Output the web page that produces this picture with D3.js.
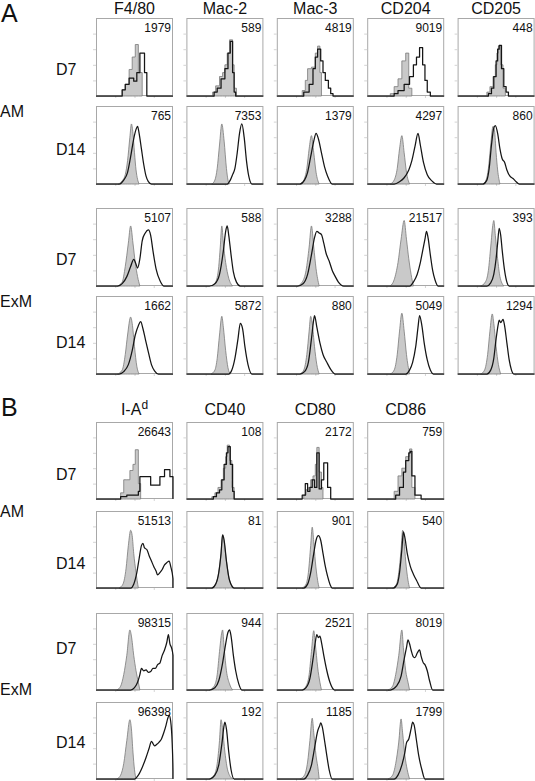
<!DOCTYPE html>
<html><head><meta charset="utf-8">
<script src="https://cdn.jsdelivr.net/npm/d3@7"></script>
<style>body{margin:0;background:#fff}svg{display:block}text{font-family:"Liberation Sans",Arial,sans-serif;fill:#111}</style>
</head><body>
<script>
// ---------------- DATA ----------------
const markersA = ["F4/80", "Mac-2", "Mac-3", "CD204", "CD205"];
const markersB = ["I-A", "CD40", "CD80", "CD86"];
const groups = ["AM", "ExM"];
const days = ["D7", "D14"];
// MFI numbers, rows: AM D7, AM D14, ExM D7, ExM D14
const mfiA = [[1979, 589, 4819, 9019, 448], [765, 7353, 1379, 4297, 860], [5107, 588, 3288, 21517, 393], [1662, 5872, 880, 5049, 1294]];
const mfiB = [[26643, 108, 2172, 759], [51513, 81, 901, 540], [98315, 944, 2521, 8019], [96398, 192, 1185, 1799]];

// histograms: [channel % of axis, count % of panel height]; iso = grey control, pos = stained
// Panel A, AM D7 (step histograms)
const F480_AM7_iso = [[34,8],[38,15],[43,34],[47,50],[51,66],[55,30],[60,0]];
const F480_AM7_pos = [[34,8],[38,15],[43,23],[49,19],[53,30],[57,55],[63,30],[66,0]];
const Mac2_AM7_iso = [[34,5],[38,13],[43,25],[47,30],[50,40],[53,55],[56,72],[60,40],[62,10],[65,0]];
const Mac2_AM7_pos = [[36,5],[40,10],[45,22],[50,35],[54,55],[57,70],[60,30],[62,5],[64,0]];
const Mac3_AM7_iso = [[33,7],[37,20],[40,35],[45,37],[50,55],[53,64],[56,30],[58,0]];
const Mac3_AM7_pos = [[35,5],[42,15],[47,35],[50,50],[53,60],[57,45],[60,30],[63,20],[67,10],[70,3],[73,0]];
const CD204_AM7_iso = [[30,3],[35,12],[40,22],[45,45],[50,55],[54,10],[58,0]];
const CD204_AM7_pos = [[35,3],[40,7],[48,15],[55,25],[60,40],[64,50],[68,62],[72,40],[75,20],[78,5],[82,0]];
const CD205_AM7_iso = [[38,5],[42,12],[46,25],[49,40],[51,55],[53,64],[56,40],[59,10],[62,0]];
const CD205_AM7_pos = [[40,3],[44,10],[47,25],[50,45],[52,60],[54,65],[57,35],[60,12],[63,5],[66,0]];
// Panel A, AM D14
const F480_AM14_iso = [[29,0],[34,4],[38,12],[41,30],[44,60],[46,77],[48,65],[50,40],[52,18],[54,6],[56,0]];
const F480_AM14_pos = [[30,0],[36,5],[41,15],[45,35],[49,58],[52,70],[54,74],[56,65],[59,45],[62,25],[65,10],[68,3],[72,0]];
const Mac2_AM14_iso = [[33,0],[37,5],[40,20],[43,50],[46,77],[49,55],[52,20],[54,5],[56,0]];
const Mac2_AM14_pos = [[53,0],[57,5],[60,12],[63,20],[66,40],[69,65],[72,77],[75,60],[78,30],[81,10],[85,0]];
const Mac3_AM14_iso = [[30,0],[35,5],[39,20],[42,45],[45,62],[48,40],[51,15],[55,0]];
const Mac3_AM14_pos = [[30,0],[36,5],[40,15],[44,35],[48,55],[51,65],[54,58],[58,40],[62,22],[66,10],[72,0]];
const CD204_AM14_iso = [[30,0],[35,5],[39,20],[42,45],[45,62],[48,40],[51,15],[55,0]];
const CD204_AM14_pos = [[35,0],[42,3],[48,8],[54,18],[58,30],[62,48],[66,65],[69,50],[73,28],[78,12],[84,4],[90,0]];
const CD205_AM14_iso = [[33,0],[37,5],[40,20],[43,50],[46,74],[48,68],[50,40],[52,18],[55,0]];
const CD205_AM14_pos = [[33,0],[38,5],[41,20],[44,50],[47,72],[49,75],[52,65],[55,45],[58,32],[61,28],[64,18],[68,10],[72,7],[76,3],[80,0]];
// Panel A, ExM D7
const F480_EX7_iso = [[28,0],[34,5],[38,25],[42,55],[45,77],[48,55],[51,30],[54,12],[57,0]];
const F480_EX7_pos = [[28,0],[34,3],[40,12],[45,25],[49,34],[52,28],[54,23],[57,35],[60,58],[64,68],[68,72],[71,65],[74,45],[78,22],[83,7],[88,0]];
const Mac2_EX7_iso = [[33,0],[38,5],[42,25],[44,50],[46,77],[48,55],[51,30],[55,10],[60,0]];
const Mac2_EX7_pos = [[30,0],[37,3],[43,15],[48,45],[51,70],[53,77],[55,65],[58,40],[61,18],[65,5],[70,0]];
const Mac3_EX7_iso = [[27,0],[33,5],[38,20],[42,50],[45,77],[48,50],[51,22],[55,0]];
const Mac3_EX7_pos = [[27,0],[34,3],[40,15],[45,40],[49,62],[52,70],[55,68],[58,66],[61,55],[64,42],[68,32],[72,20],[76,12],[80,5],[87,0]];
const CD204_EX7_iso = [[30,0],[35,8],[40,30],[44,60],[48,84],[51,60],[54,35],[57,15],[60,0]];
const CD204_EX7_pos = [[55,0],[60,5],[65,15],[69,30],[72,45],[75,60],[77,70],[79,62],[82,40],[85,20],[88,8],[92,0]];
const CD205_EX7_iso = [[30,0],[36,5],[40,20],[43,50],[46,80],[47,84],[49,65],[52,35],[55,12],[60,0]];
const CD205_EX7_pos = [[38,0],[43,4],[47,15],[50,35],[52,55],[54,74],[56,65],[58,45],[61,20],[64,5],[67,0]];
// Panel A, ExM D14
const F480_EX14_iso = [[28,0],[34,5],[38,25],[41,50],[45,73],[47,65],[50,35],[53,10],[56,0]];
const F480_EX14_pos = [[30,0],[36,3],[42,12],[47,30],[51,50],[55,62],[58,67],[61,58],[64,45],[68,28],[72,12],[76,4],[81,0]];
const Mac2_EX14_iso = [[32,0],[37,5],[40,20],[43,50],[46,74],[48,60],[51,30],[54,8],[57,0]];
const Mac2_EX14_pos = [[55,0],[59,5],[63,20],[67,45],[70,65],[73,58],[76,35],[80,12],[85,0]];
const Mac3_EX14_iso = [[30,0],[35,5],[39,25],[42,55],[44,74],[46,65],[49,35],[52,12],[55,0]];
const Mac3_EX14_pos = [[30,0],[36,3],[41,15],[45,45],[48,70],[49,75],[52,60],[56,40],[60,25],[65,15],[70,6],[76,0]];
const CD204_EX14_iso = [[30,0],[35,5],[39,25],[42,55],[45,78],[48,55],[51,25],[55,0]];
const CD204_EX14_pos = [[50,0],[55,5],[59,15],[63,35],[66,60],[68,75],[71,62],[74,40],[78,18],[82,5],[86,0]];
const CD205_EX14_iso = [[30,0],[35,5],[39,25],[42,55],[45,77],[47,65],[50,35],[53,12],[56,0]];
const CD205_EX14_pos = [[38,0],[43,5],[47,20],[50,45],[53,65],[54,69],[56,66],[59,70],[61,62],[64,40],[67,18],[70,5],[73,0]];
// Panel B, AM D7 (step histograms)
const IAd_AM7_iso = [[32,8],[36,25],[40,25],[44,37],[48,45],[51,64],[55,20],[58,0]];
const IAd_AM7_pos = [[32,3],[40,5],[48,5],[55,10],[57,29],[64,29],[71,18],[83,29],[89,38],[96,29],[100,29]];
const CD40_AM7_iso = [[33,3],[37,8],[41,15],[45,25],[48,40],[51,55],[53,70],[56,50],[59,15],[62,0]];
const CD40_AM7_pos = [[35,3],[39,8],[43,12],[46,25],[49,45],[52,60],[54,68],[57,45],[60,10],[62,0]];
const CD80_AM7_iso = [[35,5],[38,12],[41,15],[44,25],[47,30],[50,45],[52,67],[55,35],[58,15],[60,0]];
const CD80_AM7_pos = [[33,5],[37,20],[40,10],[43,15],[46,25],[49,15],[52,60],[55,13],[58,25],[61,47],[66,15],[70,0]];
const CD86_AM7_iso = [[35,10],[40,30],[45,40],[50,55],[55,65],[58,15],[62,0]];
const CD86_AM7_pos = [[37,5],[42,15],[47,35],[50,50],[54,60],[56,62],[58,30],[62,5],[70,0]];
// Panel B, AM D14
const IAd_AM14_iso = [[30,0],[35,5],[39,25],[42,55],[45,75],[47,68],[49,45],[52,20],[55,0]];
const IAd_AM14_pos = [[45,0],[49,5],[53,20],[56,38],[59,55],[61,58],[63,52],[66,50],[69,42],[72,35],[75,28],[78,22],[80,17],[83,20],[86,24],[89,30],[92,33],[95,35],[97,28],[100,12]];
const CD40_AM14_iso = [[33,0],[38,5],[42,20],[45,45],[47,69],[49,60],[52,35],[56,10],[62,0]];
const CD40_AM14_pos = [[33,0],[38,5],[42,20],[45,45],[47,69],[49,62],[52,35],[56,10],[62,0]];
const CD80_AM14_iso = [[33,0],[38,5],[41,20],[44,55],[46,79],[48,60],[50,35],[53,10],[55,0]];
const CD80_AM14_pos = [[35,0],[40,5],[44,20],[48,45],[51,62],[54,68],[57,62],[60,45],[63,28],[66,15],[69,5],[72,0]];
const CD86_AM14_iso = [[33,0],[38,5],[41,20],[44,50],[46,75],[48,60],[50,35],[53,10],[55,0]];
const CD86_AM14_pos = [[34,0],[39,5],[42,20],[45,50],[47,73],[49,65],[52,45],[56,28],[60,18],[64,10],[70,0]];
// Panel B, ExM D7
const IAd_EX7_iso = [[27,0],[32,5],[36,20],[40,45],[44,78],[46,70],[49,45],[52,25],[55,10],[57,0]];
const IAd_EX7_pos = [[45,0],[50,3],[54,10],[57,20],[59,28],[62,25],[65,26],[68,23],[71,24],[74,28],[77,28],[80,33],[83,35],[86,45],[89,52],[92,62],[94,72],[96,60],[98,55],[100,45]];
const CD40_EX7_iso = [[30,0],[36,5],[40,20],[43,50],[46,75],[47,78],[49,55],[52,25],[56,8],[60,0]];
const CD40_EX7_pos = [[30,0],[37,3],[42,12],[47,35],[51,60],[54,75],[56,78],[58,70],[61,45],[64,25],[68,8],[72,0]];
const CD80_EX7_iso = [[33,0],[38,5],[42,20],[45,50],[48,77],[50,60],[53,30],[56,10],[58,0]];
const CD80_EX7_pos = [[33,0],[38,3],[43,15],[47,40],[50,62],[52,72],[54,68],[56,70],[58,62],[61,45],[65,25],[69,10],[75,0]];
const CD86_EX7_iso = [[27,0],[33,5],[37,20],[41,45],[45,78],[47,55],[50,25],[53,10],[55,0]];
const CD86_EX7_pos = [[30,0],[38,5],[44,18],[48,40],[51,55],[53,65],[55,60],[57,52],[60,43],[62,42],[65,48],[68,52],[70,44],[73,35],[75,33],[78,25],[81,12],[85,0]];
// Panel B, ExM D14
const IAd_EX14_iso = [[27,0],[32,5],[36,20],[40,50],[44,77],[46,65],[48,35],[50,12],[52,0]];
const IAd_EX14_pos = [[50,0],[55,5],[60,15],[65,28],[69,40],[72,49],[74,46],[76,43],[79,45],[82,48],[85,52],[88,60],[91,70],[93,78],[95,83],[97,75],[99,45],[100,10]];
const CD40_EX14_iso = [[30,0],[36,5],[40,20],[43,50],[45,77],[47,65],[50,35],[54,10],[60,0]];
const CD40_EX14_pos = [[30,0],[37,5],[42,18],[46,45],[49,70],[50,74],[52,65],[55,35],[58,12],[62,0]];
const CD80_EX14_iso = [[30,0],[36,5],[40,22],[43,50],[46,79],[48,60],[51,30],[54,10],[55,0]];
const CD80_EX14_pos = [[35,0],[40,5],[45,18],[49,40],[53,62],[56,70],[57,73],[59,68],[62,50],[65,30],[68,12],[72,0]];
const CD86_EX14_iso = [[27,0],[33,5],[37,20],[41,48],[44,78],[46,60],[49,30],[52,12],[55,0]];
const CD86_EX14_pos = [[35,0],[40,5],[45,18],[49,35],[51,47],[54,52],[57,65],[59,74],[61,70],[64,50],[67,30],[71,12],[75,0]];

// tables referencing the arrays: [row][col] = [iso, pos]
const histA = [
  [[F480_AM7_iso,F480_AM7_pos],[Mac2_AM7_iso,Mac2_AM7_pos],[Mac3_AM7_iso,Mac3_AM7_pos],[CD204_AM7_iso,CD204_AM7_pos],[CD205_AM7_iso,CD205_AM7_pos]],
  [[F480_AM14_iso,F480_AM14_pos],[Mac2_AM14_iso,Mac2_AM14_pos],[Mac3_AM14_iso,Mac3_AM14_pos],[CD204_AM14_iso,CD204_AM14_pos],[CD205_AM14_iso,CD205_AM14_pos]],
  [[F480_EX7_iso,F480_EX7_pos],[Mac2_EX7_iso,Mac2_EX7_pos],[Mac3_EX7_iso,Mac3_EX7_pos],[CD204_EX7_iso,CD204_EX7_pos],[CD205_EX7_iso,CD205_EX7_pos]],
  [[F480_EX14_iso,F480_EX14_pos],[Mac2_EX14_iso,Mac2_EX14_pos],[Mac3_EX14_iso,Mac3_EX14_pos],[CD204_EX14_iso,CD204_EX14_pos],[CD205_EX14_iso,CD205_EX14_pos]]
];
const histB = [
  [[IAd_AM7_iso,IAd_AM7_pos],[CD40_AM7_iso,CD40_AM7_pos],[CD80_AM7_iso,CD80_AM7_pos],[CD86_AM7_iso,CD86_AM7_pos]],
  [[IAd_AM14_iso,IAd_AM14_pos],[CD40_AM14_iso,CD40_AM14_pos],[CD80_AM14_iso,CD80_AM14_pos],[CD86_AM14_iso,CD86_AM14_pos]],
  [[IAd_EX7_iso,IAd_EX7_pos],[CD40_EX7_iso,CD40_EX7_pos],[CD80_EX7_iso,CD80_EX7_pos],[CD86_EX7_iso,CD86_EX7_pos]],
  [[IAd_EX14_iso,IAd_EX14_pos],[CD40_EX14_iso,CD40_EX14_pos],[CD80_EX14_iso,CD80_EX14_pos],[CD86_EX14_iso,CD86_EX14_pos]]
];

// ---------------- DRAW ----------------
const W = 535, H = 781;
const svg = d3.select("body").append("svg").attr("width", W).attr("height", H);

const boxW = 77;
const x = d3.scaleLinear().domain([0, 100]).range([0, boxW]);

function drawPanel(cfg) {
  const { letter, letterY, markers, hist, mfi, rowTops, boxH, headerY, rowLabelY, groupLabelY, stepRow } = cfg;
  const y = d3.scaleLinear().domain([0, 100]).range([boxH, 0]);
  const colX = d3.scalePoint().domain(d3.range(markers.length)).range([96, 96 + 90.4 * (markers.length - 1)]);

  svg.append("text").attr("x", 1).attr("y", letterY).attr("font-size", 25).text(letter);

  markers.forEach((m, c) => {
    const t = svg.append("text").attr("x", colX(c) + boxW / 2).attr("y", headerY)
      .attr("text-anchor", "middle").attr("font-size", 16);
    t.append("tspan").text(m);
    if (m === "I-A") t.append("tspan").attr("dy", -6).attr("font-size", 12).text("d");
  });

  groups.forEach((g, gi) => {
    svg.append("text").attr("x", 0).attr("y", groupLabelY[gi]).attr("font-size", 16).text(g);
  });

  rowTops.forEach((top, r) => {
    svg.append("text").attr("x", 56).attr("y", rowLabelY[r]).attr("font-size", 16).text(days[r % 2]);
    const step = r === stepRow;
    const curve = step ? d3.curveStepAfter : d3.curveMonotoneX;
    markers.forEach((m, c) => {
      const g = svg.append("g").attr("transform", `translate(${colX(c)},${top})`);
      g.append("rect").attr("x", 0.5).attr("y", 0.5).attr("width", boxW - 1).attr("height", boxH - 1)
        .attr("fill", "#fff").attr("stroke", "#a8a8a8").attr("stroke-width", 1);
      // faint ticks
      const yt = d3.axisLeft(y).tickValues([20, 40, 60, 80]).tickSize(3).tickFormat("");
      g.append("g").call(yt).call(s => { s.select(".domain").remove(); s.selectAll("line").attr("stroke", "#d4d4d4"); });
      const xt = d3.axisBottom(x).tickValues([25, 50, 75]).tickSize(2).tickFormat("");
      g.append("g").attr("transform", `translate(0,${boxH})`).call(xt)
        .call(s => { s.select(".domain").remove(); s.selectAll("line").attr("stroke", "#d4d4d4"); });

      const [iso, pos] = hist[r][c];
      const isoPts = step ? [[iso[0][0], 0], ...iso] : iso;
      const area = d3.area().x(d => x(d[0])).y0(y(0)).y1(d => y(d[1])).curve(curve);
      g.append("path").datum(isoPts).attr("d", area).attr("fill", "#c9c9c9")
        .attr("stroke", "#7a7a7a").attr("stroke-width", 0.8);
      const posPts = [[0, 0], [pos[0][0], 0], ...pos, [100, 0]];
      const line = d3.line().x(d => x(d[0])).y(d => y(d[1])).curve(curve);
      g.append("path").datum(posPts).attr("d", line).attr("fill", "none")
        .attr("stroke", "#151515").attr("stroke-width", 1.25).attr("stroke-linejoin", "round");

      g.append("text").attr("x", boxW - 2).attr("y", 14).attr("text-anchor", "end")
        .attr("font-size", 12).text(mfi[r][c]);
    });
  });
}

drawPanel({
  letter: "A", letterY: 22, markers: markersA, hist: histA, mfi: mfiA,
  rowTops: [18, 106, 208, 296], boxH: 78, headerY: 14,
  rowLabelY: [75, 155, 265, 348], groupLabelY: [117, 307], stepRow: 0
});
drawPanel({
  letter: "B", letterY: 416, markers: markersB, hist: histB, mfi: mfiB,
  rowTops: [422, 511, 613, 702], boxH: 77, headerY: 415,
  rowLabelY: [480, 569, 654, 748], groupLabelY: [517, 695], stepRow: 0
});
</script>
</body></html>
